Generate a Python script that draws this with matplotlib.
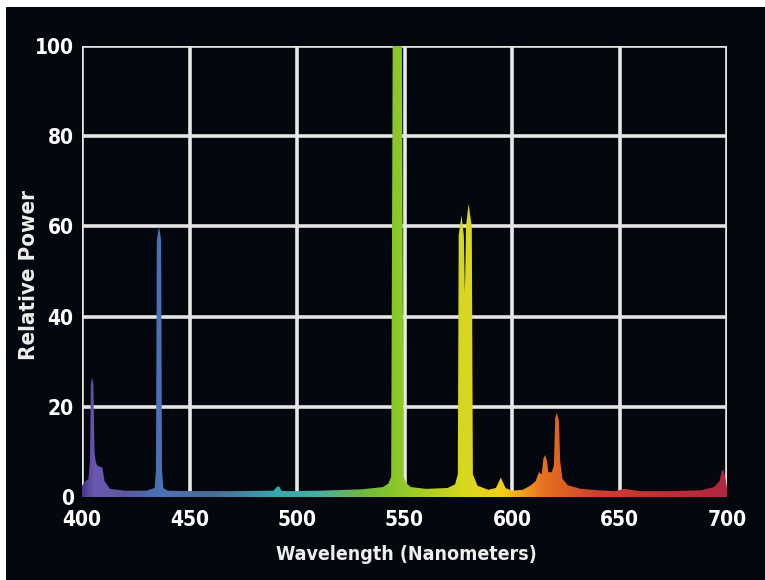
import matplotlib
matplotlib.use("Agg")
import numpy as np
import matplotlib.pyplot as plt
from matplotlib.colors import LinearSegmentedColormap, Normalize
from matplotlib.patches import Rectangle

# spectral power distribution (nm, relative power)
wavelength = [400, 401.5, 403, 403.7, 404.1, 404.7, 405.3, 405.8, 406.3, 407, 409.5, 410.5, 413,
              420, 430, 433.8, 434.4, 434.8, 435.8, 436.8, 437.2, 437.8, 440, 450,
              470, 489, 490.8, 491.8, 492.8, 495, 510, 530,
              540, 542.5, 543.8, 544.5, 546.5, 548.8, 549.5, 551, 553, 560,
              570, 573.5, 574.8, 575.2, 576.5, 577.6, 578.1, 578.6, 579.8, 581.3, 581.8, 584,
              589, 592.5, 594.8, 597, 600, 605, 608.5, 611, 612.5, 613.8, 614.6, 615.4, 616.3, 616.9,
              618.5, 619.5, 620.1, 620.9, 621.8, 622.4, 623.5, 626, 632, 640, 648, 652, 660,
              675, 688, 694, 696.5, 697.6, 698.3, 699.3, 700]
power = [2.5, 3.5, 4, 8, 25, 26.5, 25, 10, 8, 7, 6.5, 3.5, 1.8,
         1.4, 1.4, 2, 6, 57, 60, 57, 6, 2, 1.4, 1.3,
         1.3, 1.4, 2.3, 2.3, 1.4, 1.3, 1.4, 1.7,
         2.2, 3, 4.5, 100, 101, 100, 4.5, 3, 2.2, 1.8,
         2, 2.8, 5, 58, 62.5, 58, 45, 60, 65, 60, 5, 2.5,
         1.6, 2, 4.3, 2, 1.4, 1.6, 2.5, 3.5, 5.5, 5, 8.5, 9.3, 8, 5.5,
         5.5, 7, 17.5, 18.7, 17, 8, 4, 2.6, 1.8, 1.5, 1.3, 1.8, 1.3,
         1.3, 1.5, 2.2, 3.5, 5.8, 6.1, 4, 2]

# colour of the spectrum at each wavelength
color_nm = [400, 405, 420, 436, 460, 490, 510, 530, 546, 565, 578, 595, 605, 615, 622, 640, 670, 700]
color_hex = ['#4a3a8a', '#6a58b0', '#5a5aa0', '#4a72b8', '#4a6c98', '#38a8b0', '#48b0a0',
             '#70b840', '#88c828', '#b8d020', '#d8d820', '#f0d018', '#f0a020', '#e87020',
             '#e06420', '#d04030', '#c03030', '#b02840']

x_ticks = [400, 450, 500, 550, 600, 650, 700]
y_ticks = [0, 20, 40, 60, 80, 100]

bg = '#05070e'
label_font = ['Liberation Sans Narrow', 'DejaVu Sans']

fig = plt.figure(figsize=(7.65, 5.8), dpi=100, facecolor=bg)
ax = fig.add_axes([82 / 765, 1 - 497 / 580, (727 - 82) / 765, (497 - 46) / 580])
ax.set_facecolor(bg)
ax.set_xlim(400, 700)
ax.set_ylim(0, 100)

stops = [((w - 400) / 300, c) for w, c in zip(color_nm, color_hex)]
cmap = LinearSegmentedColormap.from_list('spectrum', stops)

# gradient image clipped to the outline of the spectrum
grad = np.linspace(400, 700, 900).reshape(1, -1)
img = ax.imshow(grad, extent=[400, 700, 0, 100], aspect='auto', cmap=cmap,
                norm=Normalize(400, 700), origin='lower', zorder=3, interpolation='bilinear')
outline, = ax.fill(wavelength + [700, 400], power + [0, 0], facecolor='none',
                   edgecolor='none', zorder=3)
img.set_clip_path(outline)

# white grid, drawn below the spectrum
for v in x_ticks:
    ax.axvline(v, color='#e8e8e8', lw=2.6, zorder=1)
for v in y_ticks[1:]:
    ax.axhline(v, color='#e4e4e4', lw=2.6, zorder=1)
ax.axhline(0, color='#8a8aa8', lw=2.6, zorder=1)

for s in ax.spines.values():
    s.set_visible(False)

ax.set_xticks(x_ticks)
ax.set_yticks(y_ticks)
ax.tick_params(length=0, labelcolor='white', labelsize=15)
ax.tick_params(axis='x', pad=9)
ax.tick_params(axis='y', pad=6)
for t in ax.get_xticklabels() + ax.get_yticklabels():
    t.set_family(label_font)
    t.set_fontweight('bold')
    t.set_fontstretch('condensed')

fig.text(29 / 765, 1 - 275 / 580, 'Relative Power', rotation=90, color='#eeeeee',
         ha='center', va='center', fontsize=16, fontweight='bold', fontstretch='condensed',
         family=label_font)
fig.text(406 / 765, 1 - 555 / 580, 'Wavelength (Nanometers)', color='#eeeeee',
         ha='center', va='center', fontsize=14, fontweight='bold', fontstretch='condensed',
         family=label_font)

# white border along the top and left edges
fig.patches.append(Rectangle((0, 1 - 7 / 580), 1, 7 / 580, transform=fig.transFigure,
                             facecolor='white', edgecolor='none'))
fig.patches.append(Rectangle((0, 0), 6 / 765, 1, transform=fig.transFigure,
                             facecolor='white', edgecolor='none'))

fig.savefig('out.png', dpi=100, facecolor=bg)
